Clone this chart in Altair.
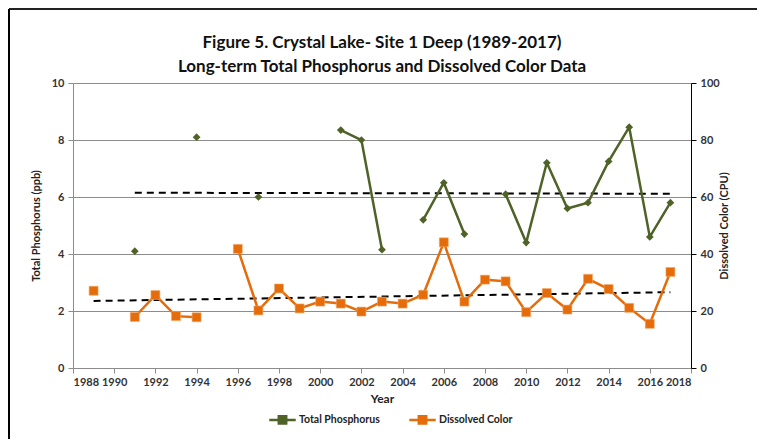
import altair as alt
import pandas as pd

series_names = ["Total Phosphorus", "Dissolved Color"]
series_colors = ["#4f6228", "#e46c0a"]
legend_path = "M-1,0H1M-0.28,-0.28H0.28V0.28H-0.28Z"

tp_years = [1991, 1994, 1997, 2001, 2002, 2003, 2005, 2006, 2007, 2009,
            2010, 2011, 2012, 2013, 2014, 2015, 2016, 2017]
tp_values = [4.1, 8.1, 6.0, 8.35, 8.0, 4.15, 5.2, 6.5, 4.7, 6.1,
             4.4, 7.2, 5.6, 5.8, 7.25, 8.45, 4.6, 5.8]

dc_years = [1989, 1991, 1992, 1993, 1994, 1996, 1997, 1998, 1999, 2000,
            2001, 2002, 2003, 2004, 2005, 2006, 2007, 2008, 2009, 2010,
            2011, 2012, 2013, 2014, 2015, 2016, 2017]
dc_values = [27.1, 17.9, 25.6, 18.2, 17.8, 41.8, 20.2, 27.9, 20.9, 23.3,
             22.6, 19.8, 23.3, 22.6, 25.7, 44.1, 23.3, 31.0, 30.4, 19.6,
             26.3, 20.5, 31.3, 27.7, 21.1, 15.5, 33.7]

x_ticks = list(range(1988, 2019, 2))
tp_ticks = [0, 2, 4, 6, 8, 10]
dc_ticks = [0, 20, 40, 60, 80, 100]


def segments(years):
    seg, s, prev = [], 0, None
    for y in years:
        if prev is not None and y - prev != 1:
            s += 1
        seg.append(s)
        prev = y
    return seg


tp_df = pd.DataFrame({"year": tp_years, "value": tp_values,
                      "series": series_names[0], "seg": segments(tp_years)})
dc_df = pd.DataFrame({"year": dc_years, "value": dc_values,
                      "series": series_names[1], "seg": segments(dc_years)})

FONT = "Lato"

x_enc = alt.X("year:Q", scale=alt.Scale(domain=[1988, 2018], nice=False, zero=False),
              axis=alt.Axis(values=x_ticks, format="d", title="Year", grid=False,
                            domainColor="#8c8c8c", tickColor="#8c8c8c", tickSize=5,
                            labelFontSize=11, labelFontWeight="bold", labelColor="#333333",
                            titleFontSize=12, titleFontWeight="bold", titleColor="#222222",
                            titlePadding=6, labelPadding=3))

tp_y = alt.Y("value:Q", scale=alt.Scale(domain=[0, 10], nice=False),
             axis=alt.Axis(orient="left", values=tp_ticks, title="Total Phosphorus (ppb)",
                           grid=True, gridColor="#8c8c8c", gridWidth=1,
                           domainColor="#8c8c8c", tickColor="#8c8c8c", tickSize=5,
                           labelFontSize=11, labelFontWeight="bold", labelColor="#333333",
                           titleFontSize=11, titleFontWeight="bold", titleColor="#222222",
                           titlePadding=10, labelPadding=4))

dc_y = alt.Y("value:Q", scale=alt.Scale(domain=[0, 100], nice=False),
             axis=alt.Axis(orient="right", values=dc_ticks, title="Dissolved Color (CPU)",
                           grid=False, domainColor="#000000", tickColor="#000000", tickSize=5,
                           labelFontSize=11, labelFontWeight="bold", labelColor="#333333",
                           titleFontSize=11, titleFontWeight="bold", titleColor="#222222",
                           titleAngle=270, titlePadding=10, labelPadding=4))

color_scale = alt.Scale(domain=series_names, range=series_colors)

legend = alt.Legend(
    orient="none", legendX=195, legendY=322, direction="horizontal", title=None,
    symbolType=legend_path, symbolSize=700, symbolStrokeWidth=2.5, symbolOpacity=1,
    labelFont=FONT, labelFontSize=10.5,
    labelFontWeight="bold", labelColor="#222222", columnPadding=24, labelOffset=2)

tp_base = alt.Chart(tp_df)
tp_line = tp_base.mark_line(strokeWidth=2.5).encode(
    x=x_enc, y=tp_y, detail="seg:N",
    color=alt.Color("series:N", scale=color_scale, legend=legend))
tp_pts = tp_base.mark_point(shape="diamond", filled=True, size=60, opacity=1).encode(
    x=x_enc, y=tp_y, color=alt.Color("series:N", scale=color_scale, legend=None))
tp_trend = tp_base.transform_regression("year", "value").mark_line(
    color="black", strokeDash=[7, 5], strokeWidth=2).encode(x=x_enc, y=tp_y)
tp_layer = alt.layer(tp_trend, tp_line, tp_pts)

dc_base = alt.Chart(dc_df)
dc_line = dc_base.mark_line(strokeWidth=2.5).encode(
    x=x_enc, y=dc_y, detail="seg:N",
    color=alt.Color("series:N", scale=color_scale, legend=legend))
dc_pts = dc_base.mark_square(filled=True, size=80, opacity=1, stroke="#f4a460", strokeWidth=0.6).encode(
    x=x_enc, y=dc_y, color=alt.Color("series:N", scale=color_scale, legend=None))
dc_trend = dc_base.transform_regression("year", "value").mark_line(
    color="black", strokeDash=[7, 5], strokeWidth=2).encode(x=x_enc, y=dc_y)
dc_layer = alt.layer(dc_trend, dc_line, dc_pts)

frame_df = pd.DataFrame({"k": [0]})
frame_top = alt.Chart(frame_df).mark_rule(color="#222222", strokeWidth=2).encode(
    x=alt.value(-64), x2=alt.value(684), y=alt.value(-74))
frame_left = alt.Chart(frame_df).mark_rule(color="#000000", strokeWidth=2).encode(
    x=alt.value(-64), y=alt.value(-74), y2=alt.value(356))

chart = alt.layer(tp_layer, dc_layer, frame_top, frame_left).resolve_scale(
    y="independent"
).properties(
    width=618, height=285,
    autosize="none",
    padding={"left": 65, "top": 75, "right": 66, "bottom": 71},
    title=alt.Title(["Figure 5. Crystal Lake- Site 1 Deep (1989-2017)",
                     "Long-term Total Phosphorus and Dissolved Color Data"],
                    fontSize=17, fontWeight="bold", font=FONT, color="#111111",
                    lineHeight=24, offset=0, dy=68, anchor="middle")
).configure(font=FONT).configure_view(strokeWidth=0).configure_axis(
    labelFont=FONT, titleFont=FONT)

chart.save("out.html", embed_options={"renderer": "svg", "actions": False})
